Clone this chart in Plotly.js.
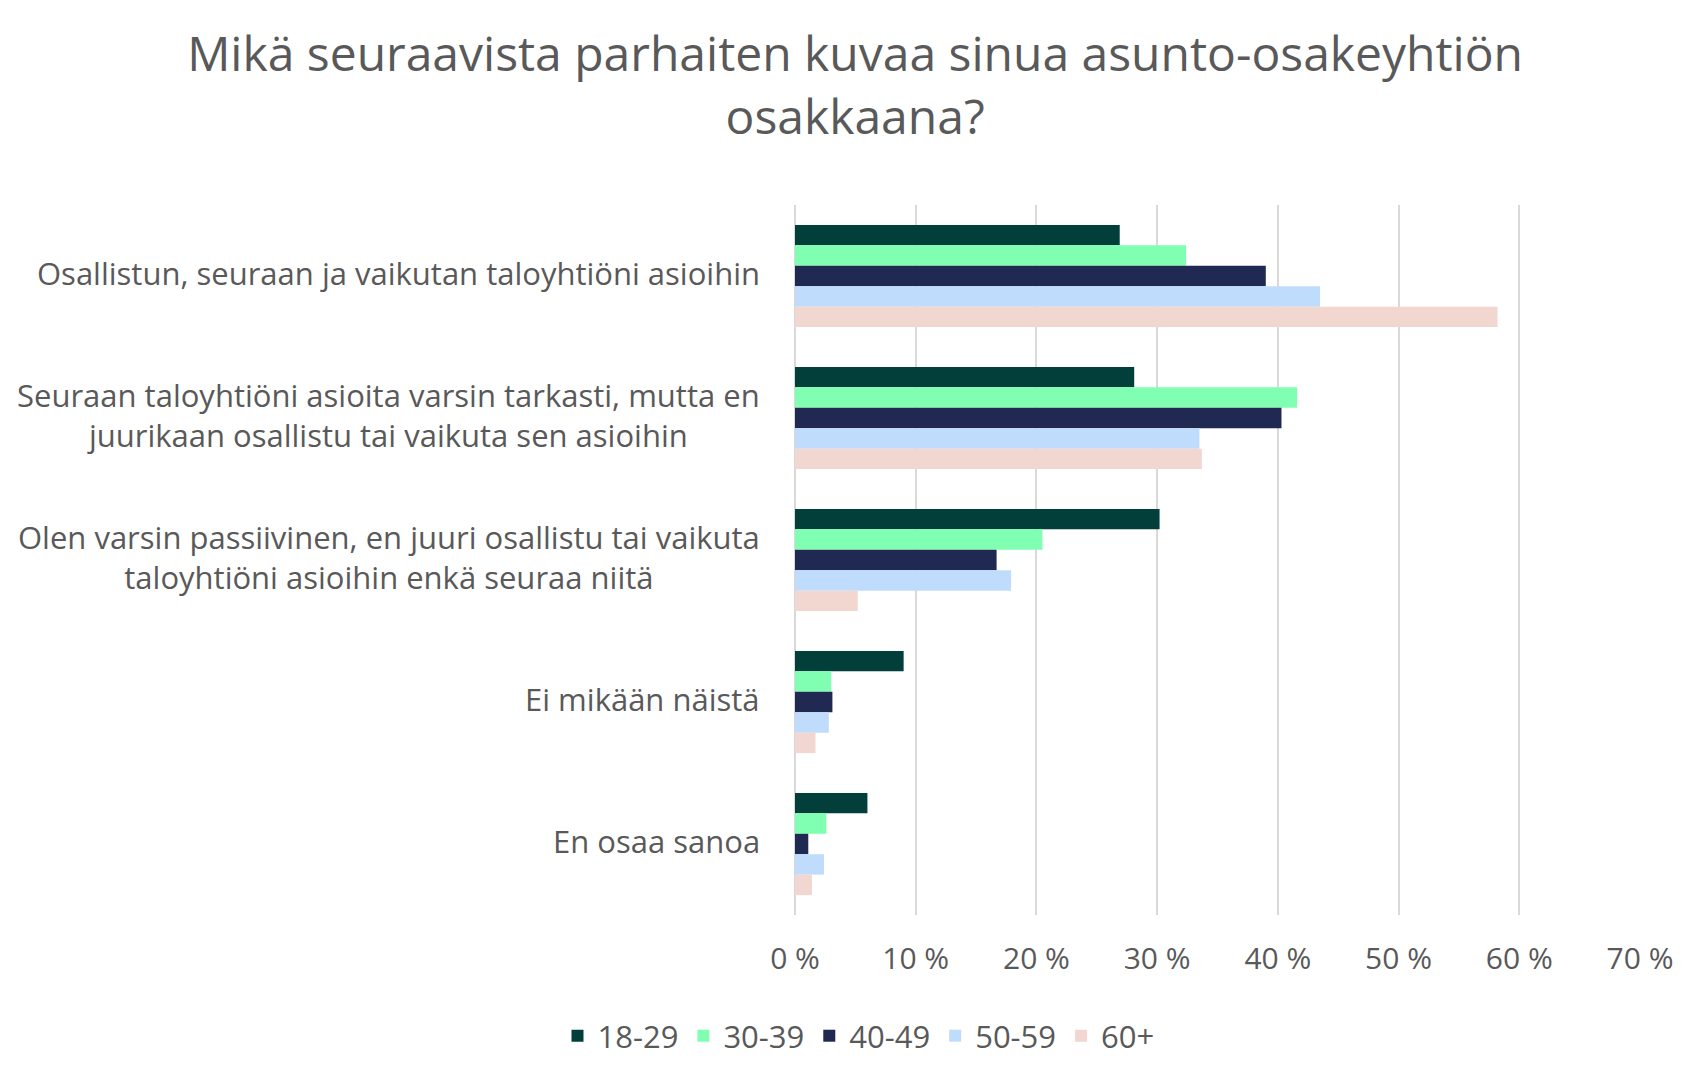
<!DOCTYPE html>
<html>
<head>
<meta charset="utf-8">
<script src="https://cdn.plot.ly/plotly-3.0.1.min.js"></script>
<style>
  html, body { margin: 0; padding: 0; background: #fff; }
  #chart { width: 1700px; height: 1067px; }
</style>
</head>
<body>
<div id="chart"></div>
<script>
const categories = [
  'Osallistun, seuraan ja vaikutan taloyhtiöni asioihin',
  'Seuraan taloyhtiöni asioita varsin tarkasti, mutta en<br>juurikaan osallistu tai vaikuta sen asioihin',
  'Olen varsin passiivinen, en juuri osallistu tai vaikuta<br>taloyhtiöni asioihin enkä seuraa niitä',
  'Ei mikään näistä',
  'En osaa sanoa'
];
const ageGroups = ['18-29', '30-39', '40-49', '50-59', '60+'];
const age18 = [26.9, 28.1, 30.2, 9.0, 6.0];
const age30 = [32.4, 41.6, 20.5, 3.0, 2.6];
const age40 = [39.0, 40.3, 16.7, 3.1, 1.1];
const age50 = [43.5, 33.5, 17.9, 2.8, 2.4];
const age60 = [58.2, 33.7, 5.2, 1.7, 1.4];
const colors = ['#023f3b', '#80ffb2', '#1f2951', '#bfdcfd', '#f2d7d1'];

const series = [age18, age30, age40, age50, age60];
const gray = '#595959';
const font = 'Open Sans, sans-serif';

let data = series.map(function (vals, i) {
  return {
    type: 'bar',
    orientation: 'h',
    name: ageGroups[i],
    x: vals,
    y: categories,
    marker: { color: colors[i] },
    hoverinfo: 'x+name'
  };
});

// category labels, lines centred like in the original
let labels = categories.map(function (c) {
  return {
    text: c,
    xref: 'paper',
    x: 0,
    yref: 'y',
    y: c,
    xanchor: 'right',
    xshift: -33,
    yshift: 3,
    align: 'center',
    showarrow: false,
    font: { family: font, size: 31, color: gray }
  };
});

let layout = {
  width: 1700,
  height: 1067,
  paper_bgcolor: '#fff',
  plot_bgcolor: '#fff',
  font: { family: font, color: gray },
  title: {
    text: 'Mikä seuraavista parhaiten kuvaa sinua asunto-osakeyhtiön<br>osakkaana?',
    font: { family: font, size: 48, color: gray },
    xref: 'container',
    x: 0.503,
    yref: 'container',
    y: 0.933,
    yanchor: 'middle'
  },
  margin: { l: 795, r: 60, t: 205, b: 152 },
  barmode: 'group',
  bargap: 0.28,
  bargroupgap: 0,
  xaxis: {
    range: [0, 70],
    dtick: 10,
    tick0: 0,
    ticksuffix: ' %',
    showgrid: true,
    gridcolor: '#d9d9d9',
    gridwidth: 2,
    zeroline: true,
    zerolinecolor: '#d9d9d9',
    zerolinewidth: 2,
    showline: false,
    ticks: '',
    ticklabelstandoff: 23,
    tickfont: { family: font, size: 30, color: gray }
  },
  yaxis: {
    autorange: 'reversed',
    showticklabels: false,
    showgrid: false,
    ticks: '',
    showline: false
  },
  showlegend: true,
  legend: {
    orientation: 'h',
    xref: 'container',
    x: 0.505,
    xanchor: 'center',
    yref: 'container',
    y: 0.029,
    yanchor: 'middle',
    font: { family: font, size: 31, color: gray },
    itemsizing: 'constant'
  },
  annotations: labels
};

Plotly.newPlot('chart', data, layout, { staticPlot: true });
</script>
</body>
</html>
